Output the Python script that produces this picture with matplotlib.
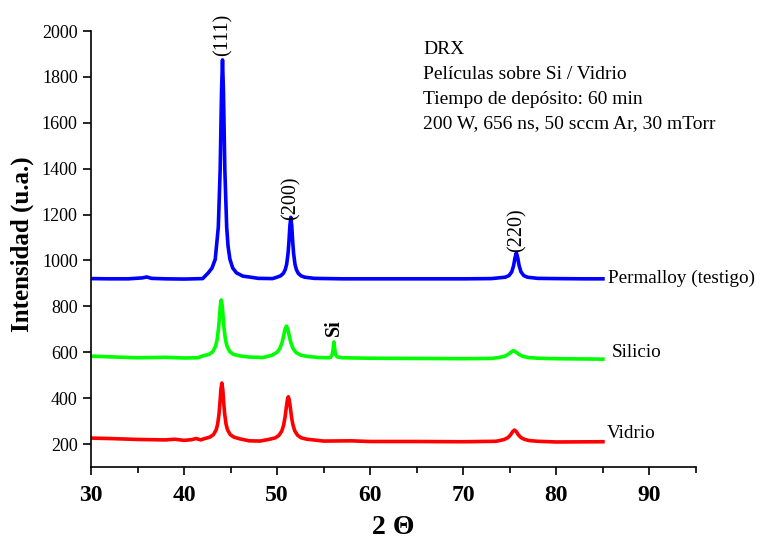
import matplotlib.pyplot as plt
from matplotlib.ticker import MultipleLocator

plt.rcParams['font.family'] = ['Liberation Serif', 'DejaVu Serif']

# ---------------------------------------------------------------------------
# Data (2 theta in degrees, intensity in a.u.)
permalloy_x = [30, 32, 34, 35.5, 36, 36.5, 38, 40, 41, 42,
               42.6, 43.0, 43.35, 43.68, 43.88, 44.03, 44.13, 44.23, 44.38, 44.58,
               44.73, 44.93, 45.23, 45.63, 46.3, 48, 49.5, 49.97, 50.37, 50.67,
               50.87, 51.02, 51.17, 51.27, 51.37, 51.47, 51.57, 51.67, 51.77, 51.92,
               52.07, 52.27, 52.57, 52.97, 54, 57, 60, 65, 70, 73,
               74.5, 74.9, 75.2, 75.4, 75.55, 75.7, 75.85, 76.0, 76.2, 76.5,
               76.9, 78, 80, 83, 85]
permalloy_y = [921, 920, 920, 924, 928, 922, 920, 919, 920, 921,
               946, 967, 1005, 1145, 1397, 1742, 1874, 1742, 1397, 1145,
               1061, 1005, 967, 946, 932, 922, 921, 927, 933, 944,
               960, 983, 1030, 1083, 1151, 1188, 1151, 1083, 1030, 983,
               960, 944, 933, 927, 922, 920, 920, 920, 920, 921,
               927, 934, 950, 977, 1011, 1034, 1011, 977, 950, 934,
               927, 922, 921, 920, 920]

silicio_x = [30, 32, 35, 38, 40, 41.5, 42, 42.7, 43.1, 43.4,
             43.55, 43.7, 43.8, 43.9, 44.0, 44.1, 44.2, 44.3, 44.45, 44.6,
             44.9, 45.3, 46.0, 47, 48.5, 49.5, 50.0, 50.3, 50.55, 50.7,
             50.85, 51.0, 51.15, 51.3, 51.45, 51.7, 52.0, 52.5, 53.2, 54.5,
             55.5, 55.75, 55.9, 56.0, 56.1, 56.2, 56.3, 56.45, 57, 60,
             65, 70, 73, 73.8, 74.4, 74.8, 75.1, 75.4, 75.7, 76.0,
             76.4, 77.0, 78, 80, 85]
silicio_y = [583, 580, 576, 578, 575, 576, 584, 591, 603, 628,
             655, 703, 752, 803, 828, 803, 752, 703, 655, 628,
             603, 591, 584, 579, 577, 588, 600, 617, 645, 672,
             700, 714, 700, 672, 645, 617, 600, 588, 582, 577,
             576, 578, 589, 609, 645, 609, 589, 580, 576, 574,
             573, 572, 573, 577, 582, 590, 600, 607, 600, 590,
             582, 577, 574, 572, 570]

vidrio_x = [30, 32, 35, 38, 39, 40, 40.8, 41.3, 41.8, 42.06,
            42.76, 43.16, 43.46, 43.61, 43.76, 43.86, 43.96, 44.06, 44.16, 44.26,
            44.36, 44.51, 44.66, 44.96, 45.36, 46.06, 47, 48.2, 49.2, 49.8,
            50.2, 50.5, 50.7, 50.85, 51.0, 51.1, 51.2, 51.3, 51.4, 51.55,
            51.7, 51.9, 52.2, 52.6, 53.2, 55, 58, 60, 65, 70,
            73.5, 73.9, 74.4, 74.8, 75.1, 75.3, 75.5, 75.7, 75.9, 76.2,
            76.6, 77.1, 78, 80, 85]
vidrio_y = [226, 224, 220, 218, 221, 216, 219, 224, 218, 222,
            230, 241, 263, 287, 332, 381, 438, 466, 438, 381,
            332, 287, 263, 241, 230, 222, 214, 213, 221, 227,
            238, 257, 283, 317, 364, 393, 406, 393, 364, 317,
            283, 257, 238, 227, 221, 213, 214, 211, 211, 210,
            212, 215, 220, 228, 241, 254, 261, 254, 241, 228,
            220, 215, 212, 209, 210]

# (x, y, colour, sample name, name x, name y)
series = [
    (permalloy_x, permalloy_y, '#0000ff', 'Permalloy (testigo)', 85.5, 924),
    (silicio_x, silicio_y, '#00ff00', 'Silicio', 85.9, 597),
    (vidrio_x, vidrio_y, '#ff0000', 'Vidrio', 85.4, 248),
]

# peak indexing labels: (text, x, y, bold)
peak_labels = [('(111)', 44.2, 1985, False), ('(200)', 51.5, 1272, False),
               ('(220)', 75.8, 1133, False), ('Si', 56.1, 706, True)]

info_lines = ['DRX', 'Películas sobre Si / Vidrio', 'Tiempo de depósito: 60 min',
              '200 W, 656 ns, 50 sccm Ar, 30 mTorr']
info_y = [1918, 1809, 1700, 1595]

# ---------------------------------------------------------------------------
fig = plt.figure(figsize=(7.6, 5.42), dpi=100)
ax = fig.add_axes([0.1197, 0.1384, 0.7961, 0.8044])

for x, y, color, name, nx, ny in series:
    ax.plot(x, y, color=color, lw=2.6, solid_joinstyle='round')
    ax.text(nx, ny, name, fontsize=13.8, va='center', ha='left', clip_on=False)

for text, x, y, bold in peak_labels:
    ax.text(x, y, text, rotation=90, ha='center', va='center', fontsize=14.5,
            fontweight='bold' if bold else 'normal')

for line, y in zip(info_lines, info_y):
    ax.text(65.7, y, line, fontsize=14, va='center', ha='left')

ax.set_xlim(30, 95)
ax.set_ylim(100, 2000)
ax.xaxis.set_major_locator(MultipleLocator(10))
ax.xaxis.set_minor_locator(MultipleLocator(5))
ax.set_yticks(range(200, 2001, 200))

for side in ['top', 'right']:
    ax.spines[side].set_visible(False)
for side in ['left', 'bottom']:
    ax.spines[side].set_linewidth(1.2)

ax.tick_params(axis='both', which='major', direction='out', length=6, width=1.2)
ax.tick_params(axis='x', which='minor', direction='out', length=4, width=1.2)
ax.tick_params(axis='y', labelsize=13)
ax.tick_params(axis='x', labelsize=17, pad=7)
for lbl in ax.get_xticklabels():
    lbl.set_fontweight('bold')

fig.text(393 / 760, 1 - 527 / 542, '2 Θ', fontsize=20, fontweight='bold',
         ha='center', va='center')
fig.text(22 / 760, 1 - 244 / 542, 'Intensidad (u.a.)', fontsize=18, fontweight='bold',
         rotation=90, ha='center', va='center')

fig.savefig('out.png', dpi=100)
